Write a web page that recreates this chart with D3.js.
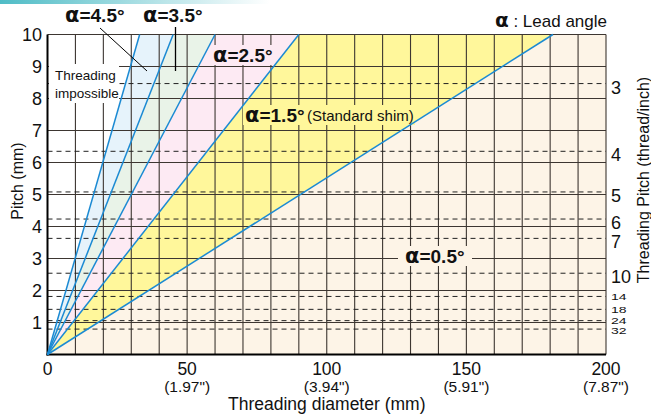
<!DOCTYPE html>
<html><head><meta charset="utf-8">
<script src="https://cdn.jsdelivr.net/npm/d3@7"></script>
<style>
body{margin:0;background:#fff;}
text{font-family:"Liberation Sans",Arial,Helvetica,sans-serif;fill:#111;}
.al{font-family:"DejaVu Sans",sans-serif;font-weight:bold;}
</style></head>
<body><svg id="c" width="651" height="416"></svg>
<script>
// ---- data ----
const diameterTicks = [0, 50, 100, 150, 200];
const diameterInch = ['', '(1.97")', '(3.94")', '(5.91")', '(7.87")'];
const pitchTicks = [1, 2, 3, 4, 5, 6, 7, 8, 9, 10];
const threadsPerInch = [3, 4, 5, 6, 7, 10, 14, 18, 24, 32];
const leadAngles = [4.5, 3.5, 2.5, 1.5, 0.5];
const diameterAtPitch10 = [33, 45, 60, 90, 181];   // where each lead-angle line meets pitch 10
const regionColors = ["#ffffff", "#e6f3fb", "#e9f3e8", "#fdeaf3", "#fff79b", "#fdf4e7"];

const svg = d3.select("#c");
const x = d3.scaleLinear().domain([0, 200]).range([47.5, 606]);
const y = d3.scaleLinear().domain([0, 10]).range([354.5, 34.5]);

// top gradient bar
const defs = svg.append("defs");
const g = defs.append("linearGradient").attr("id", "tg");
g.append("stop").attr("offset", "0").attr("stop-color", "#4fbcc6");
g.append("stop").attr("offset", "1").attr("stop-color", "#ffffff");
svg.append("rect").attr("x", 0).attr("y", 0).attr("width", 270).attr("height", 4).attr("fill", "url(#tg)");

// regions
const bounds = [0].concat(diameterAtPitch10).concat([200]);
for (let i = 0; i < regionColors.length; i++) {
  let pts;
  if (i === 0) pts = [[0, 0], [0, 10], [bounds[1], 10]];
  else if (i === regionColors.length - 1) pts = [[0, 0], [bounds[i], 10], [200, 10], [200, 0]];
  else pts = [[0, 0], [bounds[i], 10], [bounds[i + 1], 10]];
  svg.append("polygon")
    .attr("points", pts.map(p => [x(p[0]), y(p[1])].join(",")).join(" "))
    .attr("fill", regionColors[i]);
}

// grid
const gridColor = "#3d3631";
const vgrid = d3.range(10, 201, 10);
svg.selectAll(".vg").data(vgrid).enter().append("line")
  .attr("x1", d => x(d)).attr("x2", d => x(d)).attr("y1", y(0)).attr("y2", y(10))
  .attr("stroke", gridColor).attr("stroke-width", 1.1);
svg.selectAll(".hg").data(pitchTicks).enter().append("line")
  .attr("x1", x(0)).attr("x2", x(200)).attr("y1", d => y(d)).attr("y2", d => y(d))
  .attr("stroke", gridColor).attr("stroke-width", 1.1);
svg.selectAll(".dg").data(threadsPerInch).enter().append("line")
  .attr("x1", x(0)).attr("x2", x(200)).attr("y1", d => y(25.4 / d)).attr("y2", d => y(25.4 / d))
  .attr("stroke", "#222").attr("stroke-width", 1).attr("stroke-dasharray", "5,4");

// label background boxes
function box(x0, y0, w, h, fill) {
  svg.append("rect").attr("x", x0).attr("y", y0).attr("width", w).attr("height", h).attr("fill", fill);
}
box(49, 64, 70, 39, "#ffffff");
box(210, 45, 66, 20, regionColors[3]);
box(243, 105, 172, 20, regionColors[4]);
box(398, 246, 74, 20, regionColors[5]);

// axes lines
svg.append("line").attr("x1", x(0)).attr("x2", x(0)).attr("y1", y(0) + 1).attr("y2", y(10))
  .attr("stroke", "#000").attr("stroke-width", 2);
svg.append("line").attr("x1", x(0) - 1).attr("x2", x(200)).attr("y1", y(0)).attr("y2", y(0))
  .attr("stroke", "#000").attr("stroke-width", 2);

// lead angle lines
svg.selectAll(".la").data(diameterAtPitch10).enter().append("line")
  .attr("x1", x(0)).attr("y1", y(0)).attr("x2", d => x(d)).attr("y2", y(10))
  .attr("stroke", "#1b8ad3").attr("stroke-width", 1.5);

// left tick labels
svg.selectAll(".yl").data(pitchTicks).enter().append("text")
  .attr("x", 42).attr("y", d => y(d) + 6.5).attr("text-anchor", "end")
  .attr("font-size", 18).text(d => d);
// bottom tick labels
svg.selectAll(".xl").data(diameterTicks).enter().append("text")
  .attr("x", d => x(d)).attr("y", 375).attr("text-anchor", "middle")
  .attr("font-size", 17.5).text(d => d);
svg.selectAll(".xi").data(diameterInch).enter().append("text")
  .attr("x", (d, i) => x(diameterTicks[i])).attr("y", 391.5).attr("text-anchor", "middle")
  .attr("font-size", 15.5).text(d => d);
// right tick labels
svg.selectAll(".rl").data(threadsPerInch.filter(d => d <= 10)).enter().append("text")
  .attr("x", 611).attr("y", d => y(25.4 / d) + 10)
  .attr("font-size", 18)
  .text(d => d);
svg.selectAll(".rs").data(threadsPerInch.filter(d => d > 10)).enter().append("text")
  .attr("transform", d => `translate(611,${y(25.4 / d) + (d === 32 ? 5 : 3.5)}) scale(1,0.66)`)
  .attr("font-size", 14)
  .text(d => d);

// axis titles
svg.append("text").attr("transform", `translate(23,181) rotate(-90)`)
  .attr("text-anchor", "middle").attr("font-size", 16).text("Pitch (mm)");
svg.append("text").attr("transform", `translate(649,180) rotate(-90)`)
  .attr("text-anchor", "middle").attr("font-size", 16).text("Threading Pitch (thread/inch)");
svg.append("text").attr("x", x(100)).attr("y", 409.5).attr("text-anchor", "middle")
  .attr("font-size", 17.5).text("Threading diameter (mm)");

// threading impossible
svg.append("text").attr("x", 55).attr("y", 80).attr("font-size", 13.5).text("Threading");
svg.append("text").attr("x", 55).attr("y", 98).attr("font-size", 13.5).text("impossible");

// angle labels
function angleLabel(xp, yp, a) {
  const t = svg.append("text").attr("x", xp).attr("y", yp).attr("font-weight", "bold").attr("font-size", 19);
  t.append("tspan").attr("class", "al").attr("font-size", 21).text("α");
  t.append("tspan").text("=" + a + "°");
}
angleLabel(65, 22, leadAngles[0]);
angleLabel(143, 22, leadAngles[1]);
angleLabel(213, 62, leadAngles[2]);
angleLabel(245, 122, leadAngles[3]);
svg.append("text").attr("x", 307).attr("y", 121).attr("font-size", 15).text("(Standard shim)");
angleLabel(405, 263, leadAngles[4]);

// leader lines
svg.append("line").attr("x1", 100).attr("y1", 28).attr("x2", 147).attr("y2", 71).attr("stroke", "#000").attr("stroke-width", 1);
svg.append("line").attr("x1", 175.5).attr("y1", 27).attr("x2", 175.5).attr("y2", 71).attr("stroke", "#000").attr("stroke-width", 1.3);

// legend
const lg = svg.append("text").attr("x", 607).attr("y", 27).attr("font-size", 17).attr("text-anchor", "end");
lg.append("tspan").attr("class", "al").attr("font-size", 20).text("α");
lg.append("tspan").text(" : Lead angle");
</script></body></html>
